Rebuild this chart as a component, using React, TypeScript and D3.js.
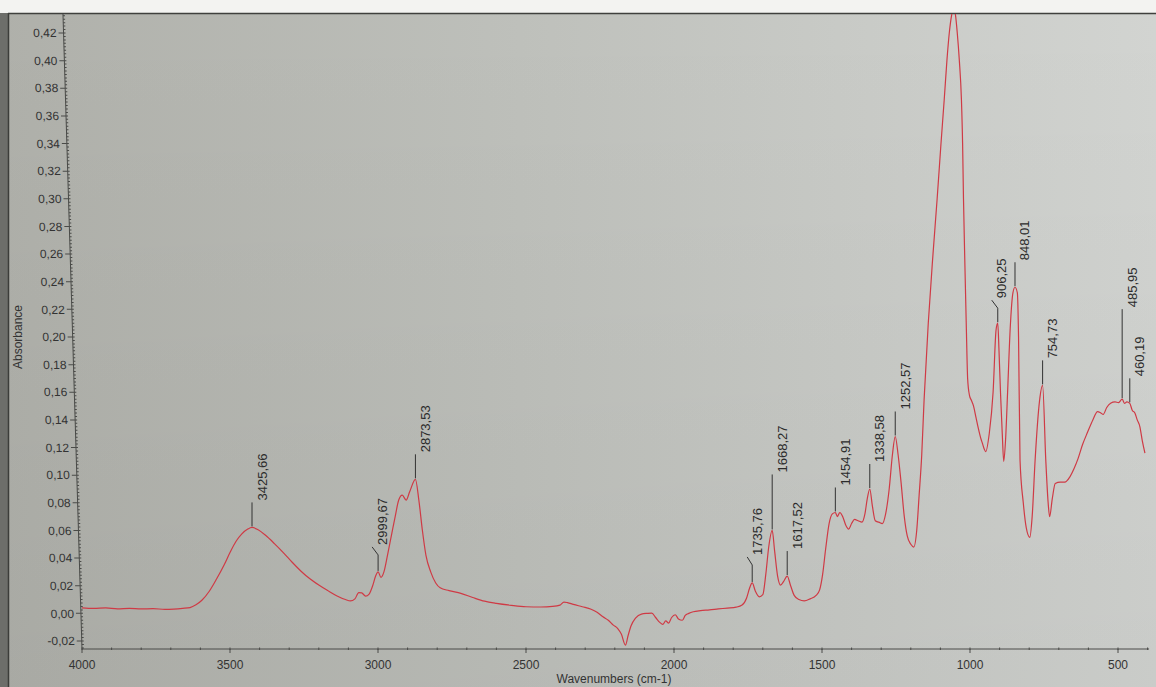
import React from 'react';
import * as d3 from 'd3';

// FTIR spectrum: [wavenumber (cm-1), absorbance]
const spectrum: [number, number][] = [
  [4000, 0.004], [3960, 0.0036], [3920, 0.004], [3880, 0.0033], [3840, 0.0036], [3800, 0.0032],
  [3760, 0.0034], [3720, 0.0029], [3690, 0.0031], [3660, 0.0036], [3635, 0.0042], [3615, 0.0062],
  [3595, 0.0095], [3570, 0.016], [3545, 0.025], [3520, 0.035], [3500, 0.044], [3480, 0.052],
  [3460, 0.0575], [3440, 0.061], [3425.66, 0.0622], [3405, 0.0605], [3380, 0.0565], [3350, 0.0505],
  [3320, 0.044], [3290, 0.037], [3260, 0.0305], [3230, 0.025], [3200, 0.0205], [3170, 0.0165],
  [3140, 0.0128], [3110, 0.01], [3093, 0.009], [3078, 0.0105], [3065, 0.015], [3055, 0.0148],
  [3042, 0.0125], [3030, 0.014], [3018, 0.02], [3008, 0.027], [2999.67, 0.03], [2990, 0.026],
  [2980, 0.03], [2968, 0.042], [2955, 0.056], [2942, 0.07], [2930, 0.082], [2918, 0.0855],
  [2905, 0.082], [2893, 0.088], [2873.53, 0.097], [2862, 0.082], [2850, 0.06], [2838, 0.042],
  [2822, 0.03], [2805, 0.022], [2790, 0.0185], [2760, 0.0165], [2720, 0.0145], [2680, 0.0115],
  [2640, 0.0088], [2600, 0.0072], [2550, 0.0058], [2500, 0.0048], [2450, 0.0046], [2410, 0.005],
  [2385, 0.006], [2372, 0.0082], [2360, 0.0078], [2340, 0.0065], [2310, 0.0048], [2280, 0.003],
  [2260, 0.0008], [2240, -0.0025], [2222, -0.005], [2205, -0.0085], [2190, -0.011], [2178, -0.015],
  [2164, -0.023], [2155, -0.016], [2145, -0.009], [2130, -0.0035], [2110, -0.0005], [2090, 0.0],
  [2075, 0.0002], [2062, -0.003], [2048, -0.0065], [2038, -0.008], [2028, -0.0055], [2018, -0.007],
  [2008, -0.003], [1996, -0.001], [1985, -0.004], [1972, -0.005], [1962, -0.0015], [1950, 0.0],
  [1935, 0.0012], [1910, 0.002], [1880, 0.0025], [1850, 0.0032], [1820, 0.0038], [1790, 0.0045],
  [1770, 0.006], [1755, 0.011], [1745, 0.018], [1735.76, 0.022], [1725, 0.016], [1712, 0.012],
  [1700, 0.0135], [1690, 0.028], [1680, 0.048], [1668.27, 0.06], [1660, 0.045], [1650, 0.027],
  [1640, 0.0205], [1630, 0.023], [1617.52, 0.027], [1606, 0.02], [1594, 0.013], [1578, 0.01],
  [1560, 0.009], [1540, 0.0105], [1520, 0.013], [1508, 0.017], [1498, 0.028], [1488, 0.046],
  [1476, 0.065], [1465, 0.072], [1454.91, 0.073], [1448, 0.07], [1440, 0.073], [1430, 0.07],
  [1420, 0.064], [1410, 0.061], [1400, 0.065], [1390, 0.068], [1378, 0.067], [1365, 0.066],
  [1355, 0.072], [1347, 0.083], [1338.58, 0.09], [1330, 0.078], [1320, 0.067], [1308, 0.066],
  [1296, 0.065], [1285, 0.072], [1273, 0.09], [1262, 0.115], [1252.57, 0.128], [1243, 0.115],
  [1233, 0.095], [1222, 0.07], [1212, 0.056], [1200, 0.05], [1190, 0.048], [1180, 0.06],
  [1172, 0.085], [1163, 0.115], [1155, 0.155], [1141, 0.21], [1125, 0.26], [1111, 0.3],
  [1098, 0.34], [1087, 0.372], [1078, 0.4], [1070, 0.42], [1062, 0.433], [1056, 0.438],
  [1049, 0.433], [1043, 0.42], [1036, 0.4], [1029, 0.372], [1025, 0.34], [1022, 0.3],
  [1017, 0.25], [1012, 0.203], [1008, 0.17], [1002, 0.158], [995, 0.154], [988, 0.15],
  [980, 0.142], [972, 0.134], [964, 0.127], [958, 0.123], [952, 0.119], [947, 0.117],
  [935, 0.13], [922, 0.16], [912, 0.205], [906.25, 0.21], [902, 0.19], [897, 0.16],
  [891, 0.13], [886, 0.11], [880, 0.125], [873, 0.16], [864, 0.207], [855, 0.232],
  [848.01, 0.236], [840, 0.232], [836, 0.2], [831, 0.111], [820, 0.08], [810, 0.062],
  [798, 0.055], [790, 0.07], [780, 0.111], [765, 0.154], [754.73, 0.165], [744, 0.111],
  [736, 0.08], [731, 0.07], [722, 0.083], [712, 0.094], [695, 0.095], [680, 0.095],
  [662, 0.099], [648, 0.105], [635, 0.112], [620, 0.122], [603, 0.131], [585, 0.14],
  [569, 0.146], [558, 0.145], [550, 0.144], [538, 0.149], [525, 0.152], [510, 0.153],
  [498, 0.1525], [485.95, 0.155], [478, 0.152], [470, 0.153], [460.19, 0.152], [452, 0.147],
  [443, 0.145], [435, 0.14], [426, 0.135], [418, 0.125], [409, 0.116],
];

// picked peaks as shown on the screen
const peaks = [3425.66, 2999.67, 2873.53, 1735.76, 1668.27, 1617.52, 1454.91, 1338.58, 1252.57, 906.25, 848.01, 754.73, 485.95, 460.19];

const xTickValues = [4000, 3500, 3000, 2500, 2000, 1500, 1000, 500];
const yTickValues = d3.range(-0.02, 0.4201, 0.02);

const W = 1156, H = 687;

// leader line tweaks for crowded labels
const labelLayout: Record<string, { len: number; dx: number }> = {
  '1668.27': { len: 55, dx: 0 },
  '485.95': { len: 89, dx: 0 },
  '2999.67': { len: 24, dx: -6 },
  '1735.76': { len: 25, dx: -5 },
  '906.25': { len: 22, dx: -6 },
};

const fmtComma = (f: string) => (v: number) => d3.format(f)(v).replace('.', ',').replace('\u2212', '-');

export default function App() {
  const x = d3.scaleLinear().domain([4000, 500]).range([82, 1118]);
  const y = d3.scaleLinear().domain([-0.02, 0.42]).range([641, 33]);
  const axisY = 649, plotTop = 14;
  const xEnd = x(395);

  const line = d3.line<[number, number]>()
    .x(d => x(d[0]))
    .y(d => y(d[1]))
    .curve(d3.curveMonotoneX);

  const minorX = d3.range(4000, 399, -100);
  const minorY = d3.range(-0.025, 0.4326, 0.0025);

  // the photo's y axis leans: left of the x origin at the top
  const k = 19 / 634;
  const skewDeg = Math.atan(k) * 180 / Math.PI;
  const yAxisShift = x(4000) - axisY * k;

  const fontFam = "'Liberation Sans', Arial, sans-serif";
  const fmtY = fmtComma('.2f');

  return (
    <svg width={W} height={H} style={{ position: 'absolute', left: 0, top: 0, display: 'block' }}>
      <defs>
        <linearGradient id="panel" x1="0" x2="1" y1="0" y2="0">
          <stop offset="0%" stopColor="#afb0aa" />
          <stop offset="45%" stopColor="#bec0bb" />
          <stop offset="100%" stopColor="#d2d4d1" />
        </linearGradient>
        <linearGradient id="shade" x1="0" x2="0" y1="0" y2="1">
          <stop offset="0%" stopColor="#000" stopOpacity="0" />
          <stop offset="100%" stopColor="#000" stopOpacity="0.04" />
        </linearGradient>
        <clipPath id="plotClip">
          <rect x={0} y={plotTop} width={W} height={axisY - plotTop + 6} />
        </clipPath>
      </defs>

      {/* screen background */}
      <rect x={0} y={0} width={W} height={H} fill="#f3f3f1" />
      <rect x={0} y={13} width={W} height={H - 13} fill="url(#panel)" />
      <rect x={0} y={13} width={W} height={H - 13} fill="url(#shade)" />
      <rect x={0} y={13} width={8} height={H - 13} fill="#6d6e6a" />
      <line x1={8.5} x2={8.5} y1={13} y2={H} stroke="#3c3d3a" strokeWidth={1.5} />
      <line x1={8} x2={W} y1={13.5} y2={13.5} stroke="#3f403d" strokeWidth={1.6} />

      {/* x axis */}
      <g fontFamily={fontFam} fontSize={12} fill="#333">
        <line x1={x(4000)} x2={xEnd} y1={axisY} y2={axisY} stroke="#4a4b48" strokeWidth={1} />
        {minorX.map(v => (
          <line key={'mx' + v} x1={x(v)} x2={x(v)} y1={axisY - 1.5} y2={axisY + 1} stroke="#4a4b48" strokeWidth={1} />
        ))}
        {xTickValues.map(v => (
          <g key={'xt' + v}>
            <line x1={x(v)} x2={x(v)} y1={axisY} y2={axisY + 4} stroke="#4a4b48" strokeWidth={1} />
            <text x={x(v)} y={axisY + 20} textAnchor="middle">{v}</text>
          </g>
        ))}
        <text x={614} y={683} textAnchor="middle">Wavenumbers (cm-1)</text>
      </g>

      {/* y axis, leaning like the photographed screen */}
      <g transform={`translate(${yAxisShift},0) skewX(${skewDeg})`} fontFamily={fontFam} fontSize={12} fill="#333">
        <line x1={0} x2={0} y1={plotTop} y2={axisY} stroke="#4a4b48" strokeWidth={1} />
        {minorY.map((v, i) => (
          <line key={'my' + i} x1={0} x2={2} y1={y(v)} y2={y(v)} stroke="#4a4b48" strokeWidth={1} />
        ))}
        {yTickValues.map((v, i) => (
          <g key={'yt' + i}>
            <line x1={-5} x2={0} y1={y(v)} y2={y(v)} stroke="#4a4b48" strokeWidth={1} />
            <text x={-7} y={y(v)} dy="0.35em" textAnchor="end">{fmtY(v)}</text>
          </g>
        ))}
      </g>
      <text transform="translate(22,337) rotate(-90)" textAnchor="middle" fontFamily={fontFam} fontSize={12} fill="#333">Absorbance</text>

      {/* spectrum */}
      <g clipPath="url(#plotClip)">
        <path d={line(spectrum) || ''} fill="none" stroke="#cf3a45" strokeWidth={1.2} strokeLinejoin="round" />
      </g>

      {/* peak labels */}
      <g fontFamily={fontFam} fontSize={13} fill="#2b2b2b">
        {peaks.map(p => {
          const pt = spectrum.find(d => d[0] === p);
          const px = x(p);
          const py = y(pt ? pt[1] : 0) - 1;
          const lay = labelLayout[p.toFixed(2)] || { len: 24, dx: 0 };
          const top = py - lay.len;
          const pts = lay.dx === 0
            ? `${px},${py} ${px},${top}`
            : `${px},${py} ${px},${top + 8} ${px + lay.dx},${top}`;
          return (
            <g key={'pk' + p}>
              <polyline points={pts} fill="none" stroke="#333" strokeWidth={1} />
              <text transform={`translate(${px + lay.dx + 14.5},${top - 2}) rotate(-90)`}>
                {p.toFixed(2).replace('.', ',')}
              </text>
            </g>
          );
        })}
      </g>
    </svg>
  );
}
